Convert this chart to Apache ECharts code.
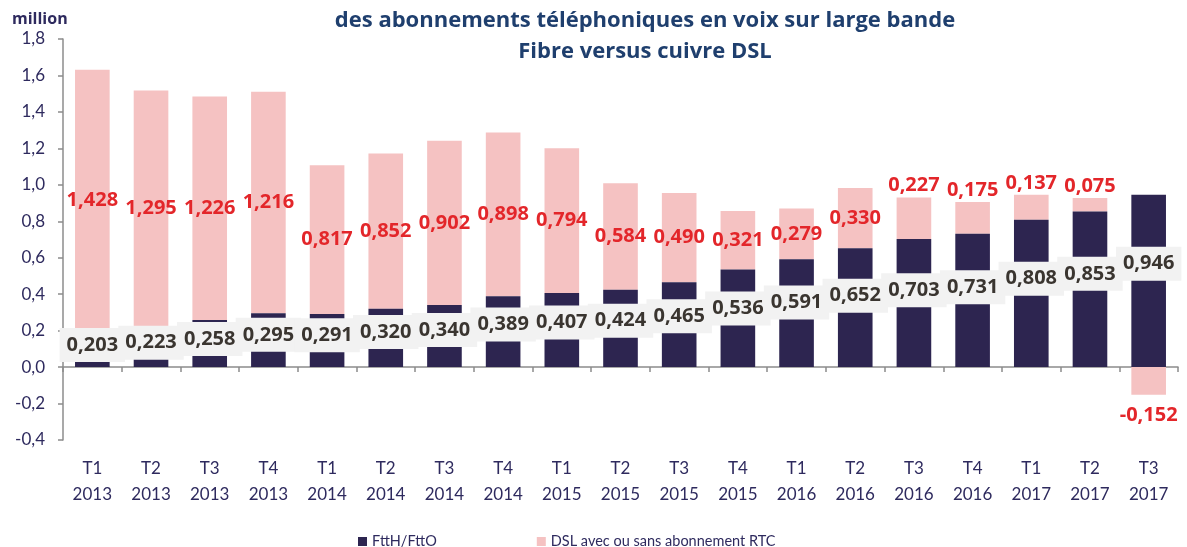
<!DOCTYPE html>
<html>
<head>
<meta charset="utf-8">
<script src="https://cdn.jsdelivr.net/npm/echarts@6/dist/echarts.min.js"></script>
<style>
  html, body { margin: 0; padding: 0; background: #fff; }
  #main { width: 1187px; height: 547px; }
</style>
</head>
<body>
<div id="main"></div>
<script>
var quarters = ['T1', 'T2', 'T3', 'T4', 'T1', 'T2', 'T3', 'T4', 'T1', 'T2', 'T3', 'T4', 'T1', 'T2', 'T3', 'T4', 'T1', 'T2', 'T3'];
var years = ['2013', '2013', '2013', '2013', '2014', '2014', '2014', '2014', '2015', '2015', '2015', '2015', '2016', '2016', '2016', '2016', '2017', '2017', '2017'];
var ftth = [0.203, 0.223, 0.258, 0.295, 0.291, 0.320, 0.340, 0.389, 0.407, 0.424, 0.465, 0.536, 0.591, 0.652, 0.703, 0.731, 0.808, 0.853, 0.946];
var dsl = [1.428, 1.295, 1.226, 1.216, 0.817, 0.852, 0.902, 0.898, 0.794, 0.584, 0.490, 0.321, 0.279, 0.330, 0.227, 0.175, 0.137, 0.075, -0.152];

var navy = '#2D2550';
var pink = '#F5C2C2';
var axisText = '#2E2A5E';
var fontFam = 'Lato, "Open Sans", sans-serif';
var boldFam = '"Open Sans", Lato, sans-serif';

var categories = quarters.map(function (q, i) { return q + '\n' + years[i]; });

function fr(v) {
    return v.toFixed(3).replace('.', ',');
}

var dslData = dsl.map(function (v) {
    var pos = 'inside';
    if (v < 0) pos = 'bottom';
    else if (v < 0.25) pos = 'top';
    return { value: v, label: { position: pos, distance: v < 0 ? 11 : 2 } };
});

var chart = echarts.init(document.getElementById('main'));

var option = {
    animation: false,
    textStyle: { fontFamily: fontFam },
    title: {
        text: 'des abonnements téléphoniques en voix sur large bande\nFibre versus cuivre DSL',
        left: 640,
        textAlign: 'center',
        top: 0,
        textStyle: {
            fontFamily: boldFam,
            fontSize: 22,
            fontWeight: 'bold',
            color: '#1F3F6E',
            lineHeight: 31
        }
    },
    graphic: [{
        type: 'text',
        left: 12,
        top: 11,
        style: {
            text: 'million',
            fontFamily: boldFam,
            fontSize: 16,
            fontWeight: 'bold',
            fill: axisText
        }
    }],
    legend: {
        left: 353,
        top: 529,
        itemGap: 100,
        itemWidth: 9,
        itemHeight: 9,
        itemStyle: { borderWidth: 0 },
        icon: 'rect',
        textStyle: { fontFamily: fontFam, fontSize: 14.5, color: axisText },
        data: ['FttH/FttO', 'DSL avec ou sans abonnement RTC']
    },
    grid: { left: 63, right: 9, top: 39, bottom: 107 },
    xAxis: [{
        type: 'category',
        data: categories,
        axisLine: { onZero: true, lineStyle: { color: '#8C8C8C', width: 1.5 } },
        axisTick: { show: true, length: 5, lineStyle: { color: '#8C8C8C', width: 1.5 } },
        axisLabel: { show: false }
    }, {
        type: 'category',
        data: categories,
        position: 'bottom',
        axisLine: { show: false, onZero: false },
        axisTick: { show: false },
        axisLabel: {
            margin: 16,
            fontFamily: fontFam,
            fontSize: 17,
            lineHeight: 26,
            color: axisText
        }
    }],
    yAxis: {
        type: 'value',
        min: -0.4,
        max: 1.8,
        interval: 0.2,
        splitLine: { show: false },
        axisLine: { show: true, lineStyle: { color: '#8C8C8C', width: 1.5 } },
        axisTick: { show: true, length: 5, lineStyle: { color: '#8C8C8C', width: 1.5 } },
        axisLabel: {
            margin: 18,
            fontFamily: fontFam,
            fontSize: 17,
            color: axisText,
            formatter: function (v) { return v.toFixed(1).replace('.', ','); }
        }
    },
    series: [{
        name: 'FttH/FttO',
        type: 'bar',
        stack: 'total',
        z: 3,
        barWidth: '59%',
        itemStyle: { color: navy },
        label: {
            show: true,
            position: ['50%', '40%'],
            align: 'center',
            verticalAlign: 'middle',
            fontFamily: boldFam,
            fontSize: 20,
            fontWeight: 'bold',
            color: '#3A3530',
            backgroundColor: '#F2F2F2',
            padding: [8, 7, 6, 7],
            formatter: function (p) { return fr(p.value); }
        },
        data: ftth
    }, {
        name: 'DSL avec ou sans abonnement RTC',
        type: 'bar',
        stack: 'total',
        z: 2,
        barWidth: '59%',
        itemStyle: { color: pink },
        label: {
            show: true,
            fontFamily: boldFam,
            fontSize: 20,
            fontWeight: 'bold',
            color: '#E3262A',
            formatter: function (p) { return fr(p.value); }
        },
        data: dslData
    }]
};

chart.setOption(option);
</script>
</body>
</html>
